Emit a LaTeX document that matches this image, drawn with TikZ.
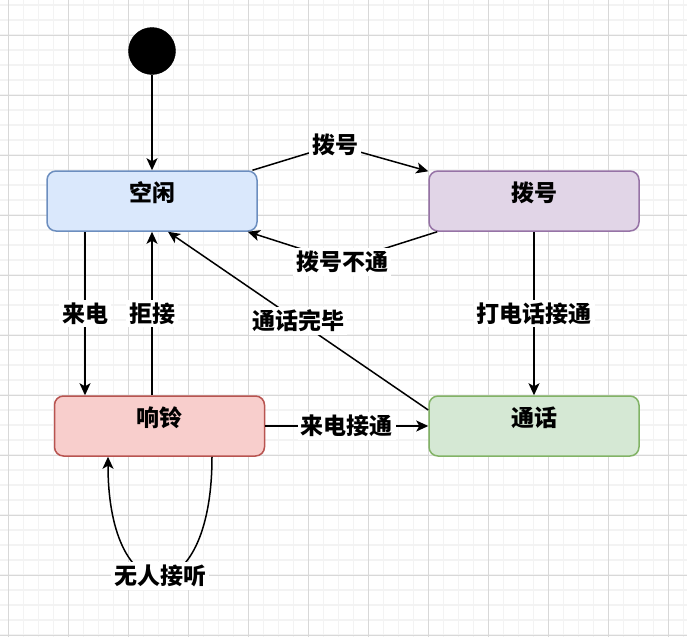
\documentclass[tikz,border=0pt]{standalone}
\usepackage{fontspec}
\setmainfont{Noto Sans CJK SC}
\usetikzlibrary{arrows.meta}

\definecolor{idlefill}{HTML}{DAE8FC}
\definecolor{idleline}{HTML}{6C8EBF}
\definecolor{dialfill}{HTML}{E1D5E7}
\definecolor{dialline}{HTML}{9673A6}
\definecolor{ringfill}{HTML}{F8CECC}
\definecolor{ringline}{HTML}{B85450}
\definecolor{talkfill}{HTML}{D5E8D4}
\definecolor{talkline}{HTML}{82B366}
\definecolor{gridlight}{RGB}{243,243,243}
\definecolor{griddark}{RGB}{216,216,216}

\tikzset{
  state/.style={draw, rounded corners=9pt, line width=1.5pt,
    minimum width=210pt, minimum height=60pt,
    text height=16pt, text depth=16pt,
    font=\fontsize{23}{27}\selectfont\bfseries},
  elabel/.style={fill=white, inner sep=3pt,
    font=\fontsize{23}{27}\selectfont\bfseries},
  arr/.style={line width=1.5pt, -{Stealth[length=12pt,width=11pt,inset=3pt]}},
  gridminor/.style={gridlight, line width=1.5pt},
  gridmajor/.style={griddark, line width=1pt},
}

\begin{document}
\begin{tikzpicture}[x=1pt,y=-1pt]
          \useasboundingbox (0,0) rectangle (687,637);
          \fill[white] (0,0) rectangle (687,637);

          % background grid
          \foreach \gx in {8.3,23.3,...,687} \draw[gridminor] (\gx,0) -- (\gx,637);
          \foreach \gy in {5,20,...,637} \draw[gridminor] (0,\gy) -- (687,\gy);
          \foreach \gx in {8.3,68.3,...,687} \draw[gridmajor] (\gx,0) -- (\gx,637);
          \foreach \gy in {35,95,...,637} \draw[gridmajor] (0,\gy) -- (687,\gy);

          % states
          \node[circle, fill=black, draw=black, minimum size=47pt, inner sep=0pt] (start) at (152,51) {};

          \node[state, fill=idlefill, draw=idleline] (idle) at (152,201) {空闲};
          \node[state, fill=dialfill, draw=dialline] (dial) at (534,201) {拨号};
          \node[state, fill=ringfill, draw=ringline] (ring) at (159.5,426) {响铃};
          \node[state, fill=talkfill, draw=talkline] (talk) at (534,426) {通话};

          \coordinate (kDial) at (335,145);
          \coordinate (kFail) at (342,262);

          % transitions
          \draw[arr] (start) -- (idle);
          \draw[arr] (idle) -- (kDial) node[elabel] {拨号} -- (dial);
          \draw[arr] (dial) -- (kFail) node[elabel] {拨号不通} -- (idle);
          \draw[arr] ([xshift=-67pt]idle.south) -- ([xshift=-67pt]idle.south |- ring.north)
            node[elabel, midway] {来电};
          \draw[arr] (ring.north -| idle.south) -- (idle.south)
            node[elabel, midway] {拒接};
          \draw[arr] ([yshift=16pt]talk.west) -- ([xshift=16pt]idle.south)
            node[elabel, midway] {通话完毕};
          \draw[arr] (dial.south) -- (talk.north)
            node[elabel, midway] {打电话接通};
          \draw[arr] (ring.east) -- (talk.west)
            node[elabel, midway] {来电接通};
          \draw[arr] ([xshift=52.5pt]ring.south) .. controls +(0,159) and +(0,159) ..
            node[elabel] {无人接听} ([xshift=-51.5pt]ring.south);
        \end{tikzpicture}
\end{document}
